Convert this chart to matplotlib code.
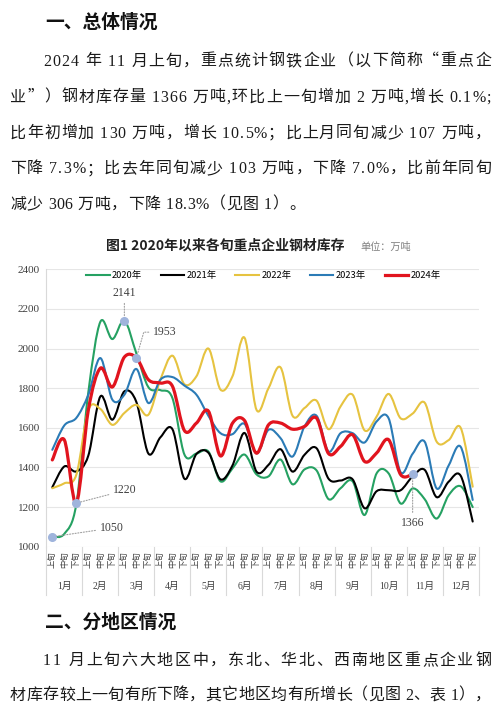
'''
Steel inventory page: text report with the ten-day inventory chart
'''
import numpy as np
import matplotlib
matplotlib.use('Agg')
import matplotlib.pyplot as plt
from matplotlib.path import Path
from matplotlib.patches import PathPatch
from matplotlib.lines import Line2D

CJK = 'Noto Sans CJK SC'
SERIF = ['Liberation Serif', 'Noto Sans CJK SC']
plt.rcParams['font.family'] = SERIF

# ten-day periods: 上旬 / 中旬 / 下旬 for each month
months = ['%d月' % m for m in range(1, 13)]
periods = ['上旬', '中旬', '下旬'] * 12

s2020 = [1050, 1065, 1215, 1780, 2135, 2048, 2141, 1975, 1805, 1790, 1750, 1465,
         1470, 1480, 1330, 1395, 1465, 1365, 1355, 1440, 1315, 1390, 1385, 1240,
         1295, 1330, 1160, 1370, 1370, 1218, 1294, 1240, 1142, 1260, 1305, 1200]
s2021 = [1300, 1405, 1380, 1460, 1758, 1641, 1784, 1730, 1470, 1552, 1593, 1343,
         1468, 1474, 1340, 1410, 1574, 1379, 1413, 1492, 1379, 1464, 1497, 1343,
         1334, 1340, 1194, 1280, 1285, 1285, 1355, 1388, 1250, 1328, 1358, 1127]
s2022 = [1295, 1320, 1363, 1690, 1695, 1615, 1675, 1716, 1666, 1843, 1964, 1820,
         1860, 2000, 1793, 1860, 2055, 1691, 1800, 1905, 1661, 1700, 1737, 1593,
         1708, 1767, 1587, 1657, 1771, 1648, 1672, 1727, 1530, 1538, 1600, 1303]
s2023 = [1489, 1612, 1650, 1767, 1952, 1742, 1767, 1897, 1725, 1843, 1856, 1813,
         1767, 1660, 1573, 1568, 1620, 1472, 1590, 1548, 1455, 1607, 1661, 1480,
         1573, 1573, 1526, 1632, 1648, 1376, 1469, 1530, 1294, 1410, 1504, 1236]
s2024 = [1438, 1539, 1220, 1690, 1901, 1806, 1957, 1953, 1843, 1826, 1810, 1586,
         1624, 1684, 1458, 1623, 1637, 1472, 1615, 1624, 1593, 1607, 1649, 1470,
         1506, 1565, 1430, 1473, 1540, 1364, 1366]

series = [('2020年', s2020, '#25a162', 1.5),
          ('2021年', s2021, '#000000', 1.5),
          ('2022年', s2022, '#e6c340', 1.5),
          ('2023年', s2023, '#2b7bb6', 1.5),
          ('2024年', s2024, '#e1141e', 2.3)]

# labelled points: (series, period index, label offset, leader shape)
callouts = [(s2020, 0, (42.6, 6.3), None),
            (s2024, 2, (34.8, 9.1), None),
            (s2020, 6, (0, 19.7), None),
            (s2024, 7, (20.4, 18.5), 'angle,angleA=0,angleB=74,rad=0'),
            (s2024, 30, (0, -34.8), None)]

para1 = ['2024 年 11 月上旬，重点统计钢铁企业（以下简称“重点企',
         '业”）钢材库存量 1366 万吨,环比上一旬增加 2 万吨,增长 0.1%;',
         '比年初增加 130 万吨，增长 10.5%；比上月同旬减少 107 万吨，',
         '下降 7.3%；比去年同旬减少 103 万吨，下降 7.0%，比前年同旬',
         '减少 306 万吨，下降 18.3%（见图 1）。']
para2 = ['11 月上旬六大地区中，东北、华北、西南地区重点企业钢',
         '材库存较上一旬有所下降，其它地区均有所增长（见图 2、表 1），']

W, H = 500, 711


def fx(x):
    return x / W


def fy(y):
    return 1 - y / H


def smooth_path(vals):
    '''
    Smoothed line through the points, like a spreadsheet smoothed line
    '''
    pts = np.column_stack([np.arange(len(vals)), np.asarray(vals, float)])
    n = len(pts)
    verts = [pts[0]]
    codes = [Path.MOVETO]
    for i in range(n - 1):
        p0 = pts[max(i - 1, 0)]
        p1 = pts[i]
        p2 = pts[i + 1]
        p3 = pts[min(i + 2, n - 1)]
        verts += [p1 + (p2 - p0) / 6, p2 - (p3 - p1) / 6, p2]
        codes += [Path.CURVE4] * 3
    return Path(verts, codes)


_adv = {}


def advance(fig, renderer, ch, size):
    '''
    Advance width of one latin character, measured between two bars
    '''
    key = (ch, size)
    if key not in _adv:
        a = fig.text(0, 0, '|' + ch + '|', fontsize=size, family=SERIF)
        b = fig.text(0, 0, '||', fontsize=size, family=SERIF)
        _adv[key] = (a.get_window_extent(renderer).width
                     - b.get_window_extent(renderer).width)
        a.remove()
        b.remove()
    return _adv[key]


def put_line(fig, renderer, s, y, x0, x1, size=11.5):
    '''
    Write one text line char by char, justified between x0 and x1
    '''
    em = size * fig.dpi / 72
    items = []
    for ch in s:
        if ord(ch) > 0x2000:
            items.append((CJK, ch, em))
        else:
            items.append((SERIF, ch, advance(fig, renderer, ch, size)))
    total = sum(w for _, _, w in items)
    gap = (x1 - x0 - total) / (len(items) - 1)
    x = x0
    for family, ch, w in items:
        if ch != ' ':
            fig.text(fx(x), fy(y), ch, fontsize=size, family=family,
                     color='#1a1a1a', ha='left', va='baseline')
        x += w + gap


fig = plt.figure(figsize=(5, 7.11), dpi=100)
fig.patch.set_facecolor('white')
renderer = fig.canvas.get_renderer()

# report text above the chart
fig.text(fx(45), fy(27.5), '一、总体情况', fontsize=13.5, family=CJK,
         weight='bold', color='#111111', va='baseline')
baselines = [65.5, 101.5, 137.5, 173, 208.5]
for i, line in enumerate(para1):
    x0 = 43 if i == 0 else 10
    x1 = 305 if i == len(para1) - 1 else 491
    put_line(fig, renderer, line, baselines[i], x0, x1)

# chart title
fig.text(fx(225.3), fy(246), '图1 2020年以来各旬重点企业钢材库存', fontsize=10,
         family=CJK, weight='bold', ha='center', va='center', color='#222222')
fig.text(fx(360), fy(247.3), '单位：万吨', fontsize=7.3, family=CJK,
         ha='left', va='center', color='#7f7f7f')

ax = fig.add_axes([fx(46.3), fy(546.7), 432.4 / W, 277.4 / H])
for name, vals, color, lw in series:
    ax.add_patch(PathPatch(smooth_path(vals), fill=False, edgecolor=color,
                           lw=lw, capstyle='round', joinstyle='round', zorder=3))

for vals, i, off, conn in callouts:
    ax.plot(i, vals[i], 'o', ms=5.5, color='#9fb4dc', zorder=5)
    props = dict(arrowstyle='-', color='#a0a0a0', lw=0.8,
                 linestyle=(0, (1, 1.5)), shrinkA=1, shrinkB=3)
    if conn:
        props['connectionstyle'] = conn
    ax.annotate(str(vals[i]), xy=(i, vals[i]), xytext=off,
                textcoords='offset points', ha='center', va='center',
                fontsize=8.5, family=SERIF, color='#404040',
                arrowprops=props, zorder=6)

ax.set_xlim(-0.5, 35.5)
ax.set_ylim(1000, 2400)
ax.set_yticks(range(1000, 2401, 200))
ax.yaxis.grid(True, color='#e6e6e6', lw=0.8)
ax.set_axisbelow(True)
for side in ['top', 'right', 'bottom']:
    ax.spines[side].set_visible(False)
ax.spines['left'].set_color('#d9d9d9')
ax.spines['left'].set_linewidth(0.8)
ax.tick_params(axis='y', length=0, pad=4.5, labelsize=8, labelcolor='#404040')

ax.set_xticks(range(len(periods)))
ax.set_xticklabels(periods, rotation=90, fontsize=6, family=CJK, color='#404040')
ax.tick_params(axis='x', length=0, pad=3.6)

trans = ax.get_xaxis_transform()
for k in range(len(months) + 1):
    ax.plot([3 * k - 0.5] * 2, [0, -0.174], transform=trans, color='#d9d9d9',
            lw=0.8, clip_on=False)
for m, label in enumerate(months):
    ax.text(3 * m + 1, -0.142, label, transform=trans, ha='center', va='center',
            fontsize=7, family=SERIF, color='#404040')

handles = [Line2D([], [], color=c, lw=lw) for _, _, c, lw in series]
ax.legend(handles, [s[0] for s in series], loc='center',
          bbox_to_anchor=(0.502, 0.977), ncol=5, frameon=False,
          prop={'family': CJK, 'size': 6.75}, handlelength=2.5,
          handletextpad=0.25, columnspacing=2.0, borderpad=0)

# report text below the chart
fig.text(fx(45), fy(628), '二、分地区情况', fontsize=13.5, family=CJK,
         weight='bold', color='#111111', va='baseline')
put_line(fig, renderer, para2[0], 665, 43, 491)
put_line(fig, renderer, para2[1], 699.5, 10, 491)

fig.savefig('out.png', dpi=100, facecolor='white')
